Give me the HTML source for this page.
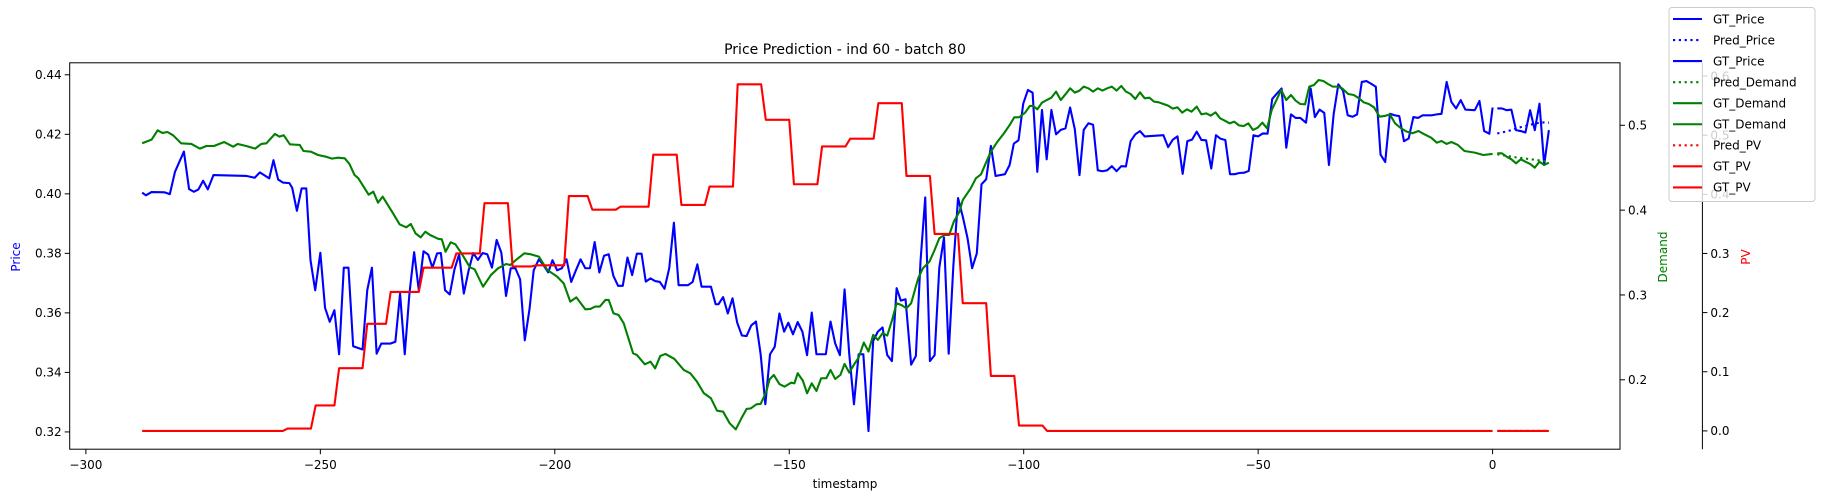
<!DOCTYPE html>
<html><head><meta charset="utf-8"><title>Price Prediction</title>
<style>
html,body{margin:0;padding:0;background:#fff;}
svg{display:block;font-family:"DejaVu Sans","Liberation Sans",sans-serif;}
</style></head>
<body>
<svg id="chart" width="1823" height="501" viewBox="0 0 1823 501" xmlns="http://www.w3.org/2000/svg">
<rect x="0" y="0" width="1823" height="501" fill="#fff"/>
<text x="845" y="54" font-size="14" text-anchor="middle" fill="#000">Price Prediction - ind 60 - batch 80</text>
<g id="plot"></g>
<g id="axes"></g>
<g id="legend"></g>
<text x="845" y="488" font-size="12" text-anchor="middle" fill="#000">timestamp</text>
<text transform="translate(20,257) rotate(-90)" font-size="12" text-anchor="middle" fill="#0000ff">Price</text>
<text transform="translate(1667,257) rotate(-90)" font-size="12" text-anchor="middle" fill="#008000">Demand</text>
<text transform="translate(1750,257) rotate(-90)" font-size="12" text-anchor="middle" fill="#ff0000">PV</text>
</svg>
<script>
const xTicks=[-300,-250,-200,-150,-100,-50,0];
const priceTicks=[0.32,0.34,0.36,0.38,0.40,0.42,0.44];
const demandTicks=[0.2,0.3,0.4,0.5];
const pvTicks=[0.0,0.1,0.2,0.3,0.4,0.5,0.6];

const priceT=[-288,-287.2,-286,-283.2,-282.1,-281,-279.1,-278,-277,-276,-275,-274,-272.8,-265.7,-264,-262.9,-260.9,-260,-259,-258,-256.6,-256,-255,-254,-253,-252.1,-251.1,-250,-249,-248,-247,-246,-245,-244,-243,-241,-240,-239,-238,-237,-235,-234,-233,-232,-231,-230,-229,-228,-227,-226.1,-225.1,-224.3,-223.4,-222.4,-221.4,-220.4,-219.4,-218.4,-217.4,-216.4,-215.4,-214.4,-213.4,-212.4,-211.4,-210.4,-209.4,-208.4,-207.4,-206.4,-205.4,-204.5,-203.4,-202.4,-201.4,-200.5,-199.5,-198.5,-197.5,-196.5,-195.5,-194.5,-193.5,-192.5,-191.5,-190.5,-189.5,-188.5,-187.5,-186.5,-185.5,-184.5,-183.5,-182.5,-181.5,-180.6,-179.6,-178.6,-177.6,-176.6,-175.6,-174.6,-173.6,-171.6,-170.6,-169.6,-168.7,-166.7,-165.7,-165.1,-164.1,-163.1,-162.1,-161.1,-160.1,-159.1,-158.1,-157.1,-156.1,-155.1,-154.1,-153.1,-152.1,-151.1,-150.2,-149.2,-148.2,-147.2,-146.2,-145.2,-144.2,-142.2,-141.2,-140.2,-139.2,-138.2,-137.2,-136.2,-135.2,-134.2,-133.1,-132.1,-131.1,-130.1,-129.1,-128.1,-127.1,-126.2,-125.2,-124,-123,-122,-121,-120,-119,-118,-117,-116,-115,-114,-113,-112,-111,-110,-109,-108,-107,-106,-104,-103,-102.1,-101.1,-100.1,-99.1,-98.1,-97.1,-96.1,-95.1,-94.1,-93.1,-92.1,-91.1,-90.1,-89.1,-88.1,-87.2,-86.2,-85.2,-84.2,-83.2,-82.2,-81.2,-80.2,-79.2,-78.2,-77.2,-76.2,-75.2,-74.2,-70.2,-69.2,-68.2,-67.2,-66.1,-65.1,-64.1,-63.1,-62.1,-61.1,-60,-59,-58,-57,-56,-55,-54,-53,-52,-51,-50,-49,-48,-47,-46,-45,-44,-43,-42,-41,-39.8,-38.8,-37.9,-36.9,-35.9,-34.9,-33.9,-32.9,-31.9,-30.9,-29.9,-28.9,-27.9,-26.9,-25.9,-24.9,-23.9,-22.9,-21.9,-20.9,-19.9,-18.9,-17.9,-16.9,-15.9,-14.9,-12.9,-11.9,-10.9,-9.8,-8.8,-7.8,-6.8,-5.8,-3.8,-2.8,-1.8,-0.7,0];
const priceV=[.4004,.3995,.4006,.4005,.3999,.4074,.4142,.4016,.4007,.4015,.4044,.4015,.4063,.4060,.4054,.4072,.4052,.4113,.4048,.4038,.4036,.4020,.3943,.4018,.4018,.3777,.3676,.3802,.3617,.3570,.3609,.3461,.3752,.3752,.3488,.3477,.3676,.3752,.3463,.3497,.3497,.3503,.3665,.3461,.3665,.3804,.3676,.3807,.3796,.3752,.3800,.3801,.3676,.3662,.3746,.3797,.3665,.3741,.3801,.3778,.3801,.3797,.3752,.3845,.3802,.3657,.3750,.3750,.3713,.3508,.3612,.3743,.3780,.3760,.3736,.3777,.3743,.3750,.3780,.3704,.3743,.3780,.3750,.3750,.3838,.3736,.3792,.3797,.3724,.3691,.3691,.3786,.3727,.3799,.3799,.3705,.3716,.3707,.3704,.3681,.3750,.3903,.3693,.3693,.3704,.3763,.3688,.3688,.3629,.3629,.3653,.3598,.3649,.3567,.3524,.3522,.3558,.3571,.3461,.3293,.3461,.3486,.3598,.3537,.3567,.3528,.3569,.3537,.3458,.3601,.3461,.3461,.3571,.3497,.3458,.3679,.3461,.3293,.3461,.3461,.3203,.3506,.3537,.3551,.3458,.3438,.3683,.3641,.3646,.3426,.3455,.3775,.3988,.3438,.3458,.3752,.3853,.3463,.3758,.3986,.3924,.3853,.3750,.3800,.4032,.4049,.4161,.4060,.4066,.4097,.4169,.4180,.4303,.4349,.4340,.4074,.4282,.4116,.4282,.4200,.4215,.4220,.4290,.4217,.4063,.4215,.4237,.4232,.4079,.4076,.4079,.4093,.4076,.4093,.4092,.4177,.4200,.4211,.4193,.4197,.4157,.4182,.4193,.4067,.4177,.4182,.4209,.4181,.4180,.4085,.4197,.4185,.4181,.4066,.4066,.4070,.4071,.4077,.4197,.4193,.4203,.4202,.4319,.4337,.4354,.4155,.4267,.4255,.4255,.4239,.4354,.4258,.4283,.4272,.4097,.4267,.4368,.4347,.4264,.4259,.4267,.4376,.4379,.4370,.4360,.4132,.4107,.4269,.4264,.4261,.4177,.4186,.4258,.4255,.4264,.4264,.4267,.4269,.4376,.4309,.4287,.4315,.4283,.4281,.4312,.4211,.4202,.4290];
const futureT=[1,2,3,4,5,6,7,8,9,10,11,12];
const priceFutureV=[.4287,.4287,.4281,.4283,.4214,.4211,.4206,.4281,.4214,.4303,.4097,.4214];
const pricePredV=[.4203,.4206,.4210,.4214,.4220,.4224,.4228,.4232,.4236,.4239,.4240,.4239];

const demandT=[-288,-286,-284.7,-283.7,-282.6,-281.4,-279.7,-277.5,-275.7,-274.3,-272.7,-270.5,-268.6,-267.6,-265.8,-263.9,-262.6,-261.5,-259.7,-258.7,-257.8,-256.5,-255.5,-254.4,-253.6,-252,-250.5,-248.8,-247.5,-246.3,-244.8,-243.8,-242.7,-241.9,-239.7,-238.7,-237.7,-236.7,-234.5,-233.1,-231.7,-230.7,-229.7,-228.6,-227.6,-226.6,-224.8,-224.1,-223.3,-222.2,-221.2,-219.9,-218.1,-217.1,-215.3,-213.6,-212.1,-210.4,-209.5,-208.3,-206.5,-205.1,-203.4,-201.6,-199.5,-198.1,-196.7,-195.4,-193.5,-192.4,-191.4,-190.4,-189.2,-188.5,-187.5,-186.4,-185.3,-183.3,-182.5,-180.8,-179.6,-178.6,-177.5,-176.4,-174.5,-172.5,-171.1,-169.7,-168.2,-166.7,-165.4,-164.1,-162.7,-161.4,-160.2,-159.1,-158.2,-157,-156.1,-154.9,-154.2,-153.3,-152.1,-151,-149.6,-148.9,-148.2,-147.1,-146.2,-145.2,-144.2,-143.2,-142.1,-141.2,-140.2,-139.1,-138.2,-137.2,-136.1,-135.2,-134.1,-133.1,-132.1,-131.1,-130.1,-129.1,-128.1,-127.1,-126.1,-125,-124,-122.5,-121.5,-120.1,-119,-118,-116.9,-115.9,-114.9,-113.7,-113,-111.3,-110.2,-109.1,-108.1,-107,-105.6,-104.2,-103,-102,-101,-99.7,-98.7,-98,-97.1,-96.1,-95.1,-94.1,-93.1,-92.1,-91.1,-90.1,-89.1,-88.1,-87.2,-86.2,-85.2,-84.2,-83.2,-82.2,-81.2,-80.2,-79.2,-78.2,-77.2,-76.2,-75.2,-74.2,-73.2,-72.2,-71.2,-70.2,-69.2,-68.2,-67.2,-66.2,-65.2,-64.2,-63.1,-62.1,-61.1,-60.1,-59.1,-58.1,-57.1,-56.1,-55.1,-54.1,-53.1,-52.1,-51.1,-50.1,-49.1,-48.1,-47.1,-46.1,-45.1,-44,-43,-42,-41,-40,-39.1,-38.1,-37.1,-36.1,-35.1,-34.1,-33.1,-32.1,-30.8,-29.6,-28.5,-27.5,-26.4,-25.3,-24.1,-23,-21.9,-20.8,-19.5,-18.3,-17.1,-15.8,-14.7,-13.1,-11.9,-10.9,-9.8,-8.8,-7.4,-6,-3.8,-2,0];
const demandV=[.4788,.4831,.4941,.4910,.4921,.4882,.4788,.4780,.4725,.4756,.4756,.4803,.4748,.4780,.4756,.4725,.4780,.4788,.4898,.4866,.4882,.4776,.4772,.4768,.4697,.4689,.4650,.4630,.4607,.4618,.4611,.4544,.4414,.4375,.4182,.4218,.4088,.4159,.3962,.3833,.3797,.3836,.3726,.3679,.3746,.3707,.3660,.3656,.3510,.3621,.3597,.3491,.3326,.3302,.3098,.3236,.3314,.3365,.3353,.3412,.3491,.3479,.3452,.3295,.3216,.3137,.2921,.2972,.2831,.2835,.2863,.2863,.2941,.2941,.2784,.2764,.2666,.2312,.2293,.2183,.2214,.2135,.2281,.2305,.2246,.2116,.2077,.1979,.1841,.1782,.1636,.1624,.1487,.1416,.1546,.1656,.1663,.1711,.1715,.1860,.2005,.2057,.1950,.1919,.1966,.1958,.2077,.1990,.1841,.1958,.1868,.2018,.2018,.2116,.2010,.2057,.2187,.2085,.2187,.2262,.2439,.2333,.2529,.2470,.2549,.2522,.2698,.2902,.2882,.2843,.2902,.3197,.3314,.3393,.3530,.3668,.3707,.3707,.3864,.3982,.4119,.4257,.4375,.4422,.4552,.4689,.4807,.4906,.5003,.5094,.5094,.5149,.5228,.5228,.5188,.5267,.5298,.5326,.5397,.5298,.5365,.5436,.5385,.5409,.5456,.5436,.5397,.5436,.5409,.5436,.5456,.5409,.5464,.5397,.5369,.5310,.5389,.5318,.5326,.5279,.5271,.5251,.5232,.5196,.5212,.5149,.5188,.5161,.5220,.5129,.5141,.5114,.5153,.5082,.5054,.5023,.5043,.4999,.4991,.5023,.4945,.4972,.5031,.4964,.5181,.5298,.5416,.5298,.5357,.5290,.5251,.5247,.5456,.5475,.5534,.5522,.5487,.5456,.5456,.5436,.5369,.5357,.5318,.5271,.5251,.5212,.5102,.5110,.5129,.5023,.4964,.4925,.4906,.4933,.4898,.4854,.4795,.4815,.4780,.4803,.4768,.4697,.4678,.4650,.4662];
const demandFutureV=[.4670,.4670,.4630,.4599,.4552,.4599,.4571,.4544,.4501,.4571,.4532,.4560];
const demandPredV=[.4658,.4650,.4640,.4630,.4622,.4615,.4608,.4600,.4594,.4586,.4578,.4572];

const pvT=[-288,-258,-257,-252,-251,-247,-246,-241,-240,-236,-235,-229,-228,-222,-221,-216,-215,-210,-209,-205,-204,-198,-197,-193,-192,-187,-186,-180,-179,-174,-173,-168,-167,-162,-161,-156,-155,-150,-149,-144,-143,-138,-137,-132,-131,-126,-125,-120,-119,-114,-113,-108,-107,-102,-101,-96,-95,0];
const pvV=[0,0,.004,.004,.043,.043,.106,.106,.181,.181,.235,.235,.276,.276,.300,.300,.385,.385,.278,.278,.280,.280,.397,.397,.374,.374,.379,.379,.467,.467,.382,.382,.413,.413,.586,.586,.526,.526,.417,.417,.481,.481,.494,.494,.554,.554,.431,.431,.333,.333,.216,.216,.093,.093,.009,.009,0,0];
const pvFutureV=[0,0,0,0,0,0,0,0,0,0,0,0];
const pvPredV=[0,0,0,0,0,0,0,0,0,0,0,0];

const L=69.7,R=1620,T=62.8,B=449.2;
function X(t){return 1492.6+4.689*t;}
function YP(p){return 74.8+(0.44-p)*2976;}
function YD(d){return 125.3+(0.5-d)*848.3;}
function YV(v){return 430.9-v*591.5;}
const NS="http://www.w3.org/2000/svg";
function mk(tag,attrs,parent){const e=document.createElementNS(NS,tag);for(const k in attrs)e.setAttribute(k,attrs[k]);parent.appendChild(e);return e;}
function pathD(ts,vs,fy){return ts.map((t,i)=>(i?'L':'M')+X(t).toFixed(2)+','+fy(vs[i]).toFixed(2)).join('');}
const plot=document.getElementById('plot');
const axes=document.getElementById('axes');
const legend=document.getElementById('legend');
const DOT='2.2,3.6';
function line(ts,vs,fy,color,dash,name){
  const p=mk('path',{d:pathD(ts,vs,fy),fill:'none',stroke:color,'stroke-width':2.1,'stroke-linejoin':'round'},plot);
  if(dash)p.setAttribute('stroke-dasharray',dash);
  
  
}
line(priceT,priceV,YP,'#0000ff',null,'gt-price-history-line');
line(futureT,pricePredV,YP,'#0000ff',DOT,'pred-price-line');
line(futureT,priceFutureV,YP,'#0000ff',null,'gt-price-future-line');
line(futureT,demandPredV,YD,'#008000',DOT,'pred-demand-line');
line(demandT,demandV,YD,'#008000',null,'gt-demand-history-line');
line(futureT,demandFutureV,YD,'#008000',null,'gt-demand-future-line');
line(futureT,pvPredV,YV,'#ff0000',DOT,'pred-pv-line');
line(pvT,pvV,YV,'#ff0000',null,'gt-pv-history-line');
line(futureT,pvFutureV,YV,'#ff0000',null,'gt-pv-future-line');

// frame
const fr=mk('rect',{x:L,y:T,width:R-L,height:B-T,fill:'none',stroke:'#000','stroke-width':1},axes);


xTicks.forEach(t=>{
  const x=X(t);
  const tk=mk('line',{x1:x,y1:B,x2:x,y2:B+5,stroke:'#000','stroke-width':1},axes);
  
  
  const tx=mk('text',{x:x,y:B+20,'font-size':12,'text-anchor':'middle',fill:'#000'},axes);
  tx.textContent=(t<0?'\u2212'+(-t):String(t));
  
  
});
priceTicks.forEach(p=>{
  const y=YP(p);
  const tk=mk('line',{x1:L-5,y1:y,x2:L,y2:y,stroke:'#000','stroke-width':1},axes);
  
  
  const tx=mk('text',{x:L-8,y:y+4.3,'font-size':12,'text-anchor':'end',fill:'#000'},axes);
  tx.textContent=p.toFixed(2);
  
  
});
demandTicks.forEach(d=>{
  const y=YD(d);
  const tk=mk('line',{x1:R,y1:y,x2:R+5,y2:y,stroke:'#000','stroke-width':1},axes);
  
  
  const tx=mk('text',{x:R+8,y:y+4.3,'font-size':12,'text-anchor':'start',fill:'#000'},axes);
  tx.textContent=d.toFixed(1);
  
  
});
const PVX=1702.4;
const sp=mk('line',{x1:PVX,y1:T,x2:PVX,y2:B,stroke:'#000','stroke-width':1},axes);


pvTicks.forEach(v=>{
  const y=YV(v);
  const tk=mk('line',{x1:PVX,y1:y,x2:PVX+5,y2:y,stroke:'#000','stroke-width':1},axes);
  
  
  const tx=mk('text',{x:PVX+8,y:y+4.3,'font-size':12,'text-anchor':'start',fill:'#000'},axes);
  tx.textContent=v.toFixed(1);
  
  
});

// legend
const lb=mk('rect',{x:1669,y:7.5,width:146,height:194,rx:3,fill:'#fff','fill-opacity':0.8,stroke:'#cccccc','stroke-width':1},legend);


const legLabels=['GT_Price','Pred_Price','GT_Price','Pred_Demand','GT_Demand','GT_Demand','Pred_PV','GT_PV','GT_PV'];
const legColors=['#0000ff','#0000ff','#0000ff','#008000','#008000','#008000','#ff0000','#ff0000','#ff0000'];
const legDotted=[false,true,false,true,false,false,true,false,false];
legLabels.forEach((lab,i)=>{
  const y=19+i*21.05;
  const g=mk('g',{},legend);
  
  
  const ln=mk('line',{x1:1673,y1:y,x2:1702,y2:y,stroke:legColors[i],'stroke-width':2.1},g);
  if(legDotted[i])ln.setAttribute('stroke-dasharray',DOT);
  
  
  const tx=mk('text',{x:1713,y:y+4.3,'font-size':12,fill:'#000'},g);
  tx.textContent=lab;
  
  
});
</script>
</body></html>
